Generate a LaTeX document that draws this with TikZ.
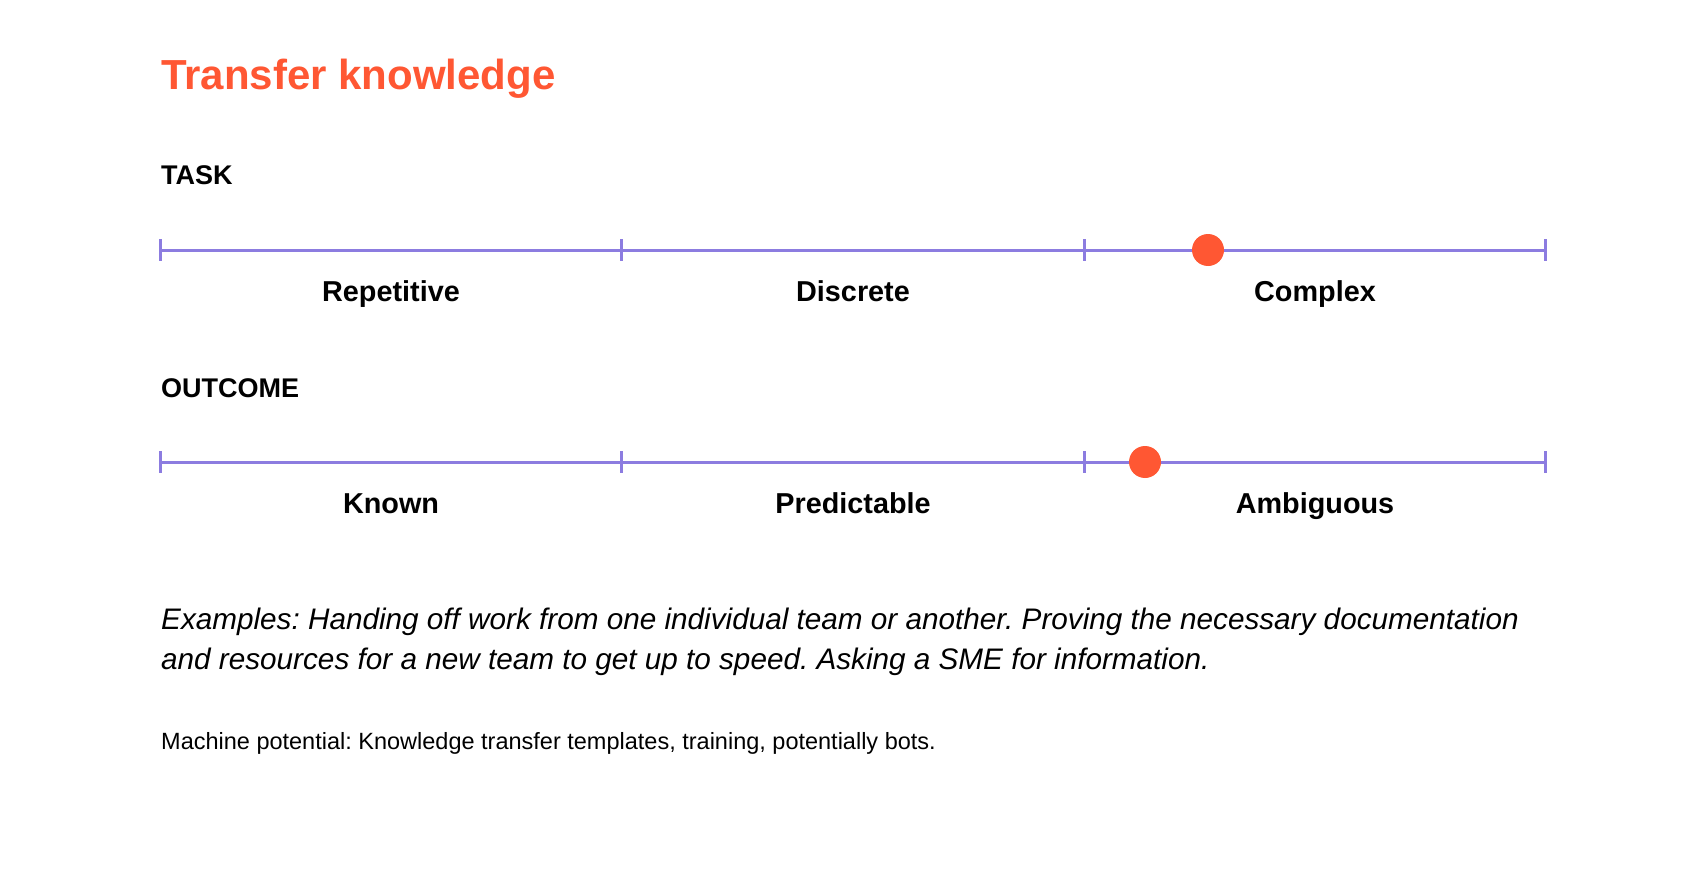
\documentclass[tikz,border=0pt]{standalone}
\usepackage{fontspec}
\setmainfont{Liberation Sans}
\usetikzlibrary{positioning}
\definecolor{accent}{HTML}{FF5733}
\definecolor{scaleline}{HTML}{8C7CE0}
\frenchspacing

\begin{document}
\begin{tikzpicture}[
  x=1pt, y=-1pt,
  title/.style={anchor=base west, inner sep=0pt, text=accent, font=\fontsize{42}{48}\selectfont\bfseries},
  head/.style={anchor=base west, inner sep=0pt, font=\fontsize{27}{32}\selectfont\bfseries},
  lab/.style={anchor=base, inner sep=0pt, font=\fontsize{28.8}{34}\selectfont\bfseries},
  bar/.style={draw=scaleline, line width=3pt},
  dot/.style={circle, fill=accent, minimum size=32pt, inner sep=0pt},
  note/.style={anchor=base west, inner sep=0pt, align=left}
]
\useasboundingbox (0,0) rectangle (1706,872);

\node[title] (title) at (161,90) {Transfer knowledge};

% task scale
\node[head] (task) at (161,185) {TASK};
\coordinate (ta) at (160,250);
\coordinate (tb) at (621,250);
\coordinate (tc) at (1084,250);
\coordinate (td) at (1545,250);
\draw[bar] (ta) -- (td);
\foreach \c in {ta,tb,tc,td}
  \draw[bar] (\c) ++(0,-11) -- ++(0,22);
\node[dot] (taskdot) at (1208,250) {};
\node[lab] (rep) at (391,301) {Repetitive};
\node[lab] (dis) at (853,301) {Discrete};
\node[lab] (com) at (1315,301) {Complex};

% outcome scale
\node[head] (outcome) at (161,397) {OUTCOME};
\coordinate (oa) at (160,462);
\coordinate (ob) at (621,462);
\coordinate (oc) at (1084,462);
\coordinate (od) at (1545,462);
\draw[bar] (oa) -- (od);
\foreach \c in {oa,ob,oc,od}
  \draw[bar] (\c) ++(0,-11) -- ++(0,22);
\node[dot] (outdot) at (1145,462) {};
\node[lab] (kno) at (391,513) {Known};
\node[lab] (pre) at (853,513) {Predictable};
\node[lab] (amb) at (1315,513) {Ambiguous};

\node[note, font=\fontsize{29.7}{40}\selectfont\itshape] (examples) at (161,669)
  {Examples: Handing off work from one individual team or another. Proving the necessary documentation\\
   and resources for a new team to get up to speed. Asking a SME for information.};
\node[note, font=\fontsize{23.5}{28}\selectfont] (machine) at (161,749)
  {Machine potential: Knowledge transfer templates, training, potentially bots.};
\end{tikzpicture}
\end{document}
